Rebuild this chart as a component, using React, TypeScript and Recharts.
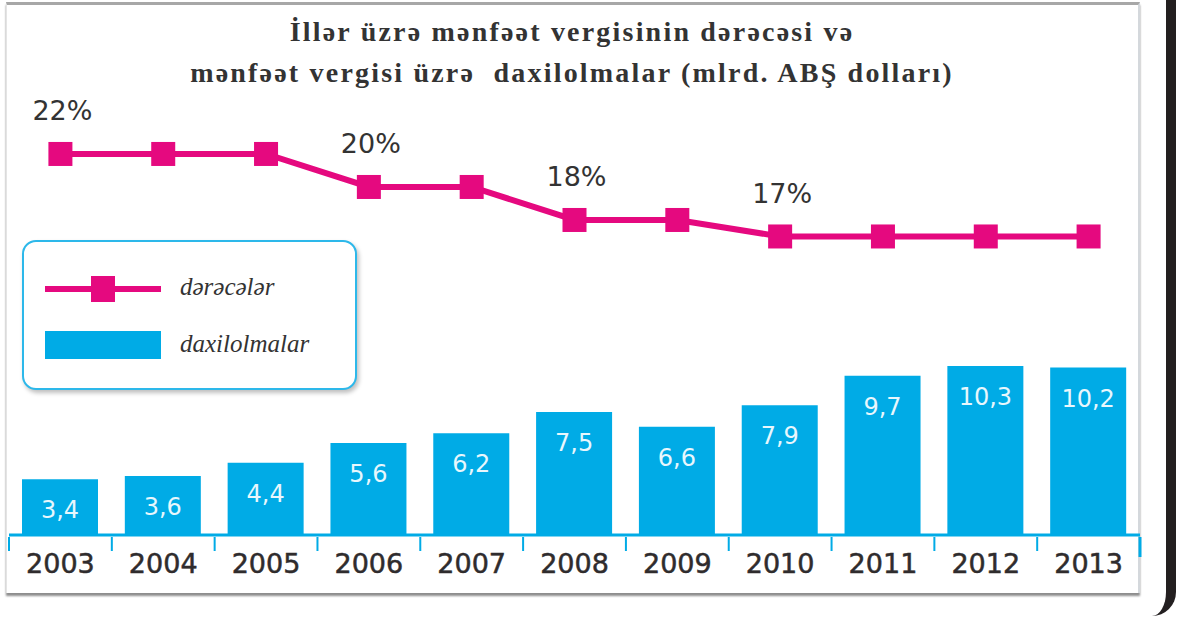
import React from 'react';
import {
  ComposedChart,
  Bar,
  Line,
  XAxis,
  YAxis,
  Legend,
  LabelList,
} from 'recharts';

const years = ['2003', '2004', '2005', '2006', '2007', '2008', '2009', '2010', '2011', '2012', '2013'];
const rates = [22, 22, 22, 20, 20, 18, 18, 17, 17, 17, 17];
const revenues = [3.4, 3.6, 4.4, 5.6, 6.2, 7.5, 6.6, 7.9, 9.7, 10.3, 10.2];

const MAGENTA = '#e5097f';
const BLUE = '#00abe6';

const data = years.map((year, i) => ({ year, rate: rates[i], revenue: revenues[i] }));

// year label centred in its band, with a small tick at the band's left edge
const YearTick = (props: any) => {
  const { x, y, payload, index, visibleTicksCount } = props;
  const band = 102.8;
  const left = x - band / 2;
  return (
    <g>
      <line x1={left} y1={y - 6} x2={left} y2={y + 8} stroke={BLUE} strokeWidth={2} />
      {index === visibleTicksCount - 1 && (
        <line x1={left + band} y1={y - 6} x2={left + band} y2={y + 14} stroke={BLUE} strokeWidth={3} />
      )}
      <text
        x={x}
        y={y + 20}
        textAnchor="middle"
        dominantBaseline="central"
        fontFamily="DejaVu Sans"
        fontSize={27}
        fill="#2f2c2d"
        stroke="#2f2c2d"
        strokeWidth={0.5}
      >
        {payload.value}
      </text>
    </g>
  );
};

const RevenueLabel = (props: any) => {
  const { x, y, width, value } = props;
  return (
    <text
      x={x + width / 2}
      y={y + 31}
      textAnchor="middle"
      dominantBaseline="central"
      fontFamily="DejaVu Sans"
      fontSize={24}
      fill="#e8f7fd"
    >
      {Number(value).toFixed(1).replace('.', ',')}
    </text>
  );
};

// only label the first point of each new rate
const RateLabel = (props: any) => {
  const { x, y, value, index } = props;
  if (index > 0 && rates[index - 1] === value) return null;
  return (
    <text
      x={x + 2}
      y={y - 43}
      textAnchor="middle"
      dominantBaseline="central"
      fontFamily="DejaVu Sans"
      fontSize={27}
      fill="#333"
    >
      {value}%
    </text>
  );
};

const SquareDot = (props: any) => {
  const { cx, cy } = props;
  return <rect x={cx - 12} y={cy - 12} width={24} height={24} fill={MAGENTA} />;
};

const LegendBox = () => (
  <div
    style={{
      width: 331,
      height: 146,
      border: `2px solid #2db8ea`,
      borderRadius: 14,
      background: '#fff',
      boxShadow: '2px 3px 4px rgba(0,0,0,0.25)',
      position: 'relative',
      fontFamily: 'Liberation Serif',
      fontStyle: 'italic',
      fontSize: 25,
      color: '#333',
    }}
  >
    <svg width={120} height={30} style={{ position: 'absolute', left: 21, top: 32 }}>
      <line x1={0} y1={15} x2={116} y2={15} stroke={MAGENTA} strokeWidth={6} />
      <rect x={46} y={2} width={24} height={26} fill={MAGENTA} />
    </svg>
    <div style={{ position: 'absolute', left: 156, top: 31 }}>dərəcələr</div>
    <div style={{ position: 'absolute', left: 21, top: 89, width: 116, height: 28, background: BLUE }} />
    <div style={{ position: 'absolute', left: 156, top: 88 }}>daxilolmalar</div>
  </div>
);

export default function App() {
  return (
    <div style={{ position: 'absolute', left: 0, top: 0, width: 1180, height: 619, background: '#fff', overflow: 'hidden' }}>
      {/* page frame */}
      <div
        style={{
          position: 'absolute',
          left: 6,
          top: 2,
          width: 1131,
          height: 588,
          borderTop: '3px solid #a7a7a7',
          borderRight: '2px solid #d4d8dc',
          borderLeft: '1px solid #e4e4e4',
          boxShadow: '0 3px 2px #8d8d8d',
        }}
      />
      {/* black bracket on the right */}
      <div
        style={{
          position: 'absolute',
          boxSizing: 'border-box',
          left: 1146,
          top: -2,
          width: 30,
          height: 618,
          borderRight: '10px solid #231f20',
          borderBottomRightRadius: 24,
        }}
      />
      <div
        style={{
          position: 'absolute',
          left: 0,
          top: 11,
          width: 1144,
          textAlign: 'center',
          fontFamily: 'Liberation Serif',
          fontWeight: 'bold',
          fontSize: 28,
          letterSpacing: 2.2,
          lineHeight: '41px',
          color: '#333',
          whiteSpace: 'pre',
        }}
      >
        {'İllər üzrə mənfəət vergisinin dərəcəsi və\nmənfəət vergisi üzrə  daxilolmalar (mlrd. ABŞ dolları)'}
      </div>
      <div style={{ position: 'absolute', left: 0, top: 0 }}>
        <ComposedChart
          width={1180}
          height={619}
          data={data}
          margin={{ top: 100, right: 40, left: 9, bottom: 54 }}
        >
          <XAxis
            dataKey="year"
            height={30}
            axisLine={{ stroke: BLUE, strokeWidth: 3 }}
            tickLine={false}
            tick={<YearTick />}
            interval={0}
          />
          <YAxis yAxisId="bar" hide domain={[0, 26.5]} />
          <YAxis yAxisId="rate" hide domain={[-1.09, 25.27]} allowDataOverflow />
          <Legend
            layout="vertical"
            align="center"
            verticalAlign="middle"
            wrapperStyle={{ left: 22, top: 240, width: 335 }}
            content={<LegendBox />}
          />
          <Bar yAxisId="bar" dataKey="revenue" fill={BLUE} barSize={76} isAnimationActive={false}>
            <LabelList dataKey="revenue" content={<RevenueLabel />} />
          </Bar>
          <Line
            yAxisId="rate"
            dataKey="rate"
            stroke={MAGENTA}
            strokeWidth={6}
            dot={<SquareDot />}
            activeDot={false}
            isAnimationActive={false}
          >
            <LabelList dataKey="rate" content={<RateLabel />} />
          </Line>
        </ComposedChart>
      </div>
    </div>
  );
}
